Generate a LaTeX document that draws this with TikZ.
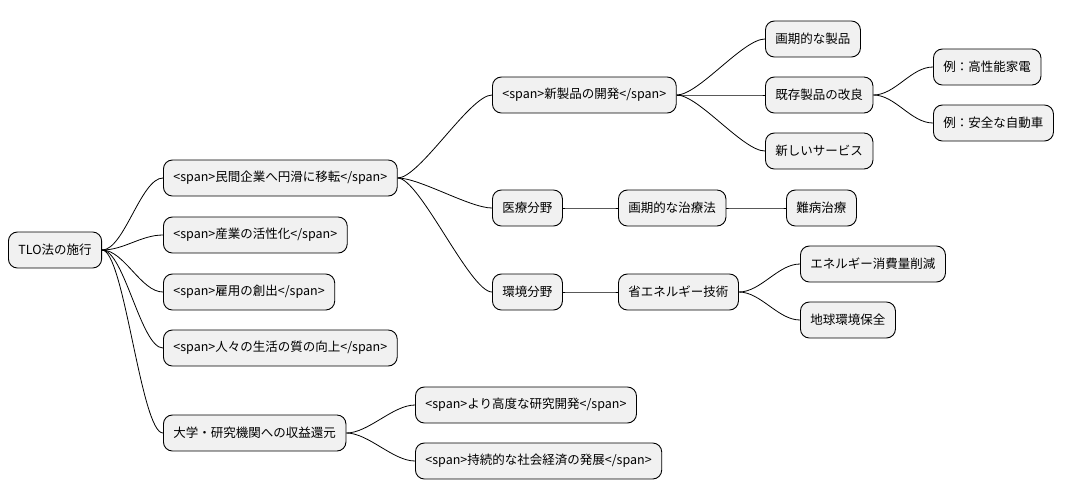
\documentclass[tikz,border=0pt]{standalone}
\usepackage{fontspec}
\setmainfont{Noto Sans CJK JP}
\begin{document}
\begin{tikzpicture}[x=1pt,y=-1pt,
  box/.style={draw=black,line width=0.9pt,fill={rgb,255:red,241;green,241;blue,241},rounded corners=9pt,minimum height=36pt,inner xsep=10pt,anchor=west,font=\fontsize{12.5}{14}\selectfont},
  lk/.style={draw=black,line width=0.8pt}]
\useasboundingbox (0,0) rectangle (1076,499);
\node[box] (r) at (8,250) {TLO法の施行};
\node[box] (a) at (163,178) {<span>民間企業へ円滑に移転</span>};
\node[box] (b) at (163,235) {<span>産業の活性化</span>};
\node[box] (c) at (163,292) {<span>雇用の創出</span>};
\node[box] (d) at (163,348) {<span>人々の生活の質の向上</span>};
\node[box] (e) at (163,433) {大学・研究機関への収益還元};
\node[box] (a1) at (492,95) {<span>新製品の開発</span>};
\node[box] (a2) at (492,208) {医療分野};
\node[box] (a3) at (492,292) {環境分野};
\node[box] (p1) at (765,39) {画期的な製品};
\node[box] (p2) at (765,95) {既存製品の改良};
\node[box] (p3) at (765,151) {新しいサービス};
\node[box] (q1) at (933,67) {例：高性能家電};
\node[box] (q2) at (933,123) {例：安全な自動車};
\node[box] (m1) at (618,208) {画期的な治療法};
\node[box] (m2) at (786,208) {難病治療};
\node[box] (k1) at (618,292) {省エネルギー技術};
\node[box] (k2) at (800,264) {エネルギー消費量削減};
\node[box] (k3) at (800,320) {地球環境保全};
\node[box] (e1) at (415,405) {<span>より高度な研究開発</span>};
\node[box] (e2) at (415,461) {<span>持続的な社会経済の発展</span>};
\foreach \p/\c in {r/a,r/b,r/c,r/d,r/e,a/a1,a/a2,a/a3,a1/p1,a1/p2,a1/p3,p2/q1,p2/q2,a2/m1,m1/m2,a3/k1,k1/k2,k1/k3,e/e1,e/e2}
  \draw[lk] (\p.east) .. controls +(22,0) and +(-22,0) .. (\c.west);
\end{tikzpicture}
\end{document}
